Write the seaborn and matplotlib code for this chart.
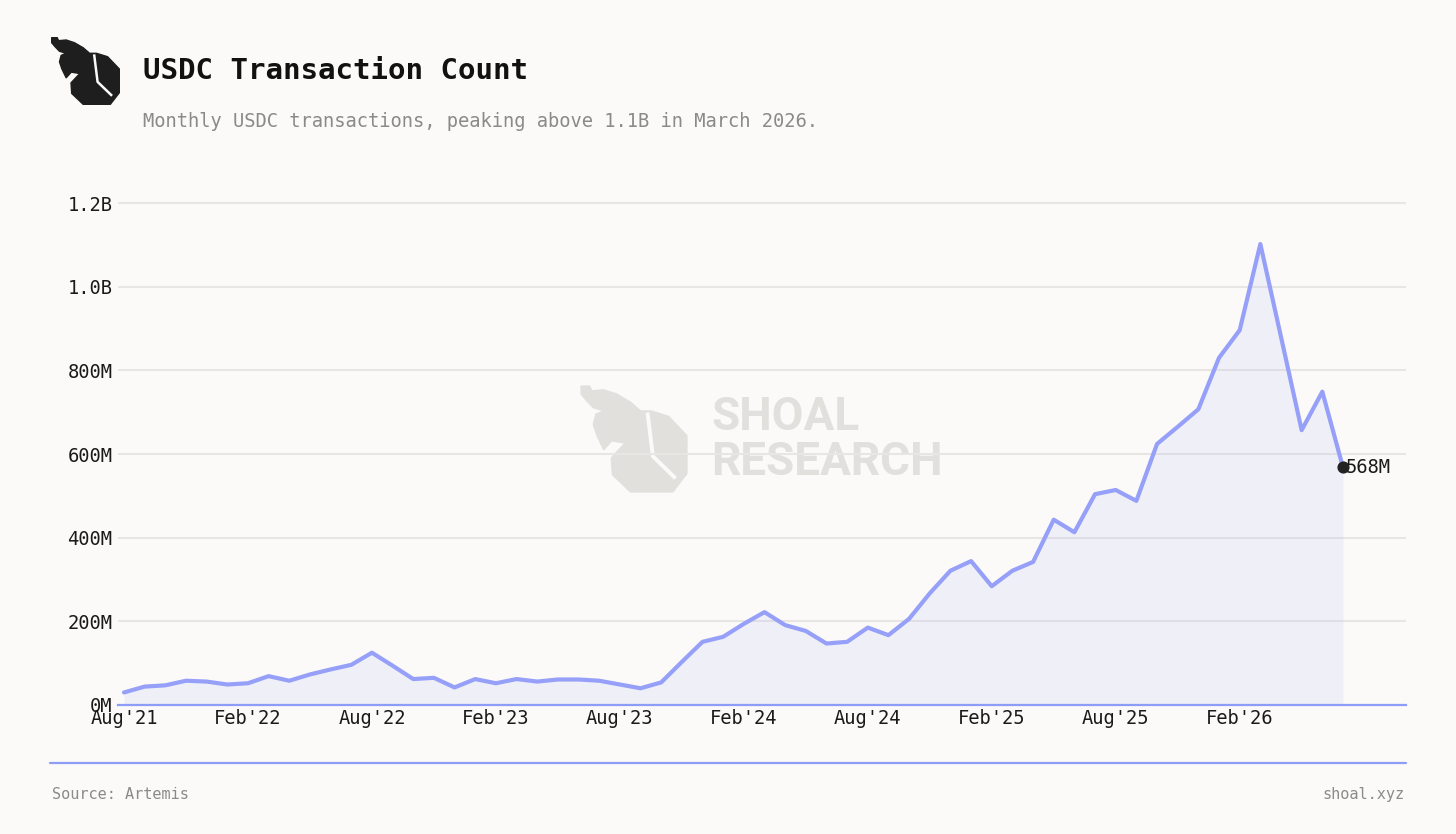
import numpy as np
import pandas as pd
import matplotlib
matplotlib.use("Agg")
import matplotlib.pyplot as plt
import seaborn as sns

# monthly data, Aug'21 .. Jul'26 (millions of transactions)
months = pd.period_range("2021-08", "2026-07", freq="M")
txns_m = [30, 44, 47, 58, 56, 49, 52, 69, 58, 73, 85, 96,
          125, 94, 62, 65, 42, 62, 52, 62, 56, 61, 61, 58,
          49, 40, 54, 103, 151, 163, 194, 222, 191, 177, 147, 151,
          185, 167, 206, 267, 321, 344, 284, 321, 342, 443, 413, 504,
          514, 488, 624, 665, 707, 830, 896, 1102, 880, 657, 749, 568]
y_ticks = [0, 200e6, 400e6, 600e6, 800e6, 1000e6, 1200e6]
y_labels = ["0M", "200M", "400M", "600M", "800M", "1.0B", "1.2B"]

title = "USDC Transaction Count"
subtitle = "Monthly USDC transactions, peaking above 1.1B in March 2026."

df = pd.DataFrame({"idx": np.arange(len(months)),
                   "txns": np.array(txns_m) * 1e6})

BG = "#fbfaf8"
LINE = "#96a0f8"
AXIS_BLUE = "#8d9cf7"
W, H = 1456, 834

sns.set_style("white")
plt.rcParams["font.family"] = ["DejaVu Sans Mono", "DejaVu Sans"]

fig = plt.figure(figsize=(W / 100, H / 100), dpi=100, facecolor=BG)


def fx(px):
    return px / W


def fy(py):
    return 1 - py / H


# rough logo outline in unit box coords (y down)
logo_outline = [(0.01, 0.01), (0.09, 0.01), (0.11, 0.054), (0.22, 0.044),
                (0.34, 0.084), (0.466, 0.158), (0.56, 0.24), (0.66, 0.24),
                (0.82, 0.29), (0.99, 0.47), (0.99, 0.82), (0.86, 0.99),
                (0.466, 0.99), (0.30, 0.83), (0.29, 0.675), (0.417, 0.537),
                (0.294, 0.517), (0.22, 0.60), (0.157, 0.468), (0.123, 0.365),
                (0.147, 0.27), (0.22, 0.24), (0.123, 0.21), (0.059, 0.143),
                (0.01, 0.084)]
logo_slash_x = [0.625, 0.675, 0.885]
logo_slash_y = [0.255, 0.66, 0.865]


def draw_logo(x0, y0, x1, y1, color, z):
    lax = fig.add_axes([fx(x0), fy(y1), fx(x1 - x0), (y1 - y0) / H], zorder=z)
    lax.set_xlim(0, 1)
    lax.set_ylim(1, 0)
    lax.axis("off")
    lax.patch.set_alpha(0)
    lax.add_patch(plt.Polygon(logo_outline, closed=True, fc=color, ec=color,
                              lw=1.0, joinstyle="round"))
    lax.plot(logo_slash_x, logo_slash_y, color=BG,
             lw=1.8 * (x1 - x0) / 69, solid_capstyle="butt")


# watermark (behind the chart)
draw_logo(580, 385, 688, 493, "#e1e0dd", -2)
fig.text(fx(711), fy(430), "SHOAL", family="Roboto", weight="bold",
         fontsize=33, color="#e1e0dd", zorder=-2)
fig.text(fx(711), fy(475), "RESEARCH", family="Roboto", weight="bold",
         fontsize=33, color="#e1e0dd", zorder=-2)

ax = fig.add_axes([fx(118), fy(705), fx(1406 - 118), (705 - 182.1) / H])
ax.set_facecolor("none")

ax.fill_between(df["idx"], df["txns"], color=AXIS_BLUE, alpha=0.1, lw=0, zorder=2)
sns.lineplot(data=df, x="idx", y="txns", ax=ax, color=LINE, linewidth=3,
             zorder=3)

last = df.iloc[-1]
ax.scatter([last["idx"]], [last["txns"]], s=60, color="#222222", zorder=5)
ax.annotate(f"{txns_m[-1]}M", (last["idx"], last["txns"]), xytext=(2, 0),
            textcoords="offset points", va="center", ha="left",
            fontsize=13.5, color="#1a1a1a", zorder=6)

ax.set_xlim(-0.29, 62.05)
ax.set_ylim(0, 1.25e9)
ax.set_yticks(y_ticks)
ax.set_yticklabels(y_labels)
xt = list(range(0, len(months), 6))
ax.set_xticks(xt)
ax.set_xticklabels([months[i].strftime("%b'%y") for i in xt])
ax.tick_params(length=0, labelsize=13.5, colors="#1a1a1a")
ax.tick_params(axis="y", pad=4)
ax.tick_params(axis="x", pad=3)
ax.set_xlabel("")
ax.set_ylabel("")
ax.grid(axis="y", color="#e8e6e2", linewidth=1.5, zorder=0)
ax.grid(axis="x", visible=False)
for s in ["top", "right", "left"]:
    ax.spines[s].set_visible(False)
ax.spines["bottom"].set_color(AXIS_BLUE)
ax.spines["bottom"].set_linewidth(1.6)
ax.spines["bottom"].set_zorder(4)

# header
draw_logo(51, 37, 120, 105, "#1e1e1e", 3)
fig.text(fx(143), fy(79), title, fontsize=21, weight="bold", color="#111111")
fig.text(fx(143), fy(127), subtitle, fontsize=13.5, color="#8a8a8a")

# footer
fig.add_artist(plt.Line2D([fx(50), fx(1406)], [fy(763), fy(763)],
                          color=AXIS_BLUE, linewidth=1.6))
fig.text(fx(52), fy(799), "Source: Artemis", fontsize=11, color="#8a8a8a")
fig.text(fx(1404), fy(799), "shoal.xyz", fontsize=11, color="#8a8a8a", ha="right")

fig.savefig("out.png", dpi=100, facecolor=BG)
